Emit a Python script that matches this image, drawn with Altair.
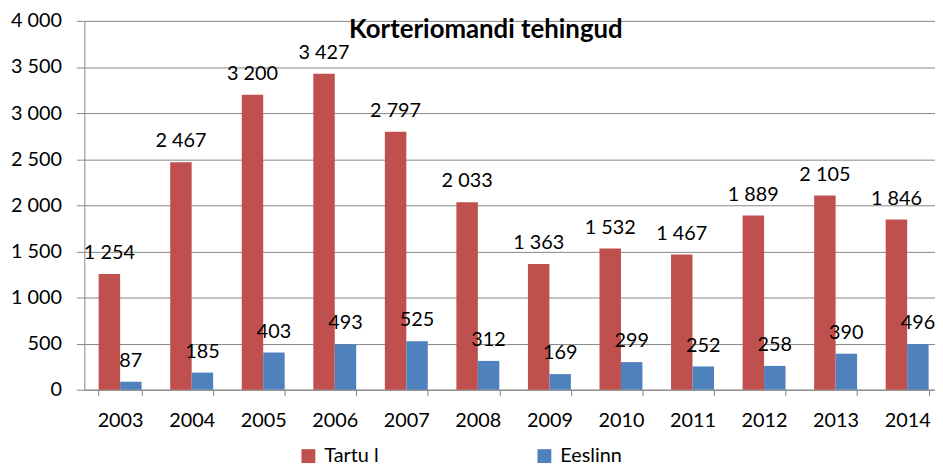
import altair as alt
import pandas as pd

years = ["2003", "2004", "2005", "2006", "2007", "2008", "2009", "2010", "2011", "2012", "2013", "2014"]
tartu = [1254, 2467, 3200, 3427, 2797, 2033, 1363, 1532, 1467, 1889, 2105, 1846]
eeslinn = [87, 185, 403, 493, 525, 312, 169, 299, 252, 258, 390, 496]
series = ["Tartu l", "Eeslinn"]
colors = ["#C0504D", "#4F81BD"]
y_ticks = [0, 500, 1000, 1500, 2000, 2500, 3000, 3500, 4000]

rows = []
for i, yr in enumerate(years):
    for s, vals in zip(series, [tartu, eeslinn]):
        v = vals[i]
        rows.append({"year": yr, "series": s, "value": v,
                     "label": f"{v:,}".replace(",", " ")})
df = pd.DataFrame(rows)

FONT = "Lato"
GRID = "#868686"

x = alt.X("year:N", sort=years,
          scale=alt.Scale(range=[0, 866], paddingInner=0.4, paddingOuter=0.2),
          axis=alt.Axis(title=None, labelAngle=0, tickBand="extent", tickSize=6,
                        tickColor=GRID, domainColor=GRID, labelFont=FONT,
                        labelFontSize=20, labelColor="black", labelPadding=15,
                        labelBaseline="top"))
xo = alt.XOffset("series:N", sort=series, scale=alt.Scale(paddingInner=0, paddingOuter=0))
y = alt.Y("value:Q", scale=alt.Scale(domain=[0, 4000], nice=False),
          axis=alt.Axis(title=None, values=y_ticks, grid=True, gridColor=GRID,
                        gridWidth=1, tickSize=8, tickColor=GRID, domainColor=GRID,
                        labelFont=FONT, labelFontSize=20, labelColor="black",
                        labelPadding=15,
                        labelExpr="replace(format(datum.value, ','), ',', ' ')"))

bars = alt.Chart(df).mark_bar().encode(
    x=x, xOffset=xo, y=y,
    color=alt.Color("series:N", sort=series,
                    scale=alt.Scale(domain=series, range=colors),
                    legend=alt.Legend(title=None, orient="none", direction="horizontal",
                                      legendX=216, legendY=429, symbolType="square",
                                      symbolSize=196, symbolStrokeWidth=0,
                                      labelFont=FONT, labelFontSize=20,
                                      labelColor="black", labelOffset=6,
                                      columnPadding=157, padding=0)),
)

labels = alt.Chart(df).mark_text(font=FONT, fontSize=20, color="black",
                                 baseline="alphabetic", dy=-15).encode(
    x=x, xOffset=xo, y=y, text="label:N"
)

chart = alt.layer(bars, labels).properties(
    width=858, height=372,
    padding={"left": 77, "top": 11, "right": 0, "bottom": 75},
    autosize=alt.AutoSizeParams(type="none"),
    title=alt.TitleParams("Korteriomandi tehingud", font=FONT, fontSize=26,
                          fontWeight="bold", color="black", anchor="middle",
                          frame="group", offset=-32, dx=-24),
).configure_view(stroke=None)

chart.save("out.html", embed_options={"renderer": "svg", "actions": False})
